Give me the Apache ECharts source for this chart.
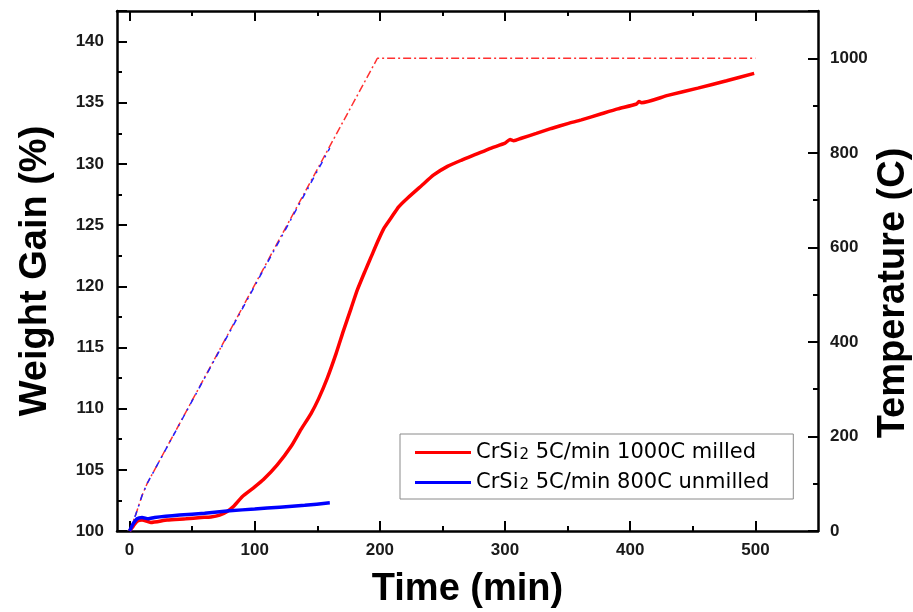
<!DOCTYPE html>
<html>
<head>
<meta charset="utf-8">
<script src="https://cdn.jsdelivr.net/npm/echarts@6/dist/echarts.min.js"></script>
<style>html,body{margin:0;padding:0;background:#fff;}#c{width:913px;height:612px;}</style>
</head>
<body>
<div id="c"></div>
<script>
// ---- data ----
const xMajorTicks = [0, 100, 200, 300, 400, 500];
const xMinorTicks = [50, 150, 250, 350, 450];

const milledTime = [0,3,6,10,17,30,45,57,65,72,78,83,90,100,107,118,129,137,145,151,158,165,171,177,182,188,193,198,203,209,215,222,233,243,254,265,277,289,300,304,307,313,325,337,350,361,377,390,405,407,409,430,454,477,499];
const milledWeight = [100,100.4,100.8,100.9,100.7,100.9,101.0,101.1,101.15,101.3,101.6,102.0,102.8,103.6,104.2,105.4,106.9,108.3,109.6,110.8,112.5,114.5,116.4,118.2,119.7,121.2,122.4,123.6,124.7,125.6,126.5,127.2,128.2,129.1,129.8,130.3,130.8,131.3,131.7,132.0,131.9,132.1,132.5,132.9,133.3,133.6,134.1,134.5,134.9,135.1,135.0,135.6,136.2,136.8,137.4];

const unmilledTime = [0,3,6,10,15,20,40,60,80,100,120,140,160];
const unmilledWeight = [100,100.6,101.0,101.1,101.0,101.1,101.3,101.45,101.65,101.8,101.95,102.1,102.3];

const temp1000Time = [0,5,10,14,197,198,500];
const temp1000Value = [0,35,75,100,995,1000,1000];
const temp800Time = [0,5,10,14,160];
const temp800Value = [0,35,75,100,810];

const seriesNames = ['milled', 'unmilled'];
const legendLabels = {
  milled: '{a|CrSi}{s|2}{a| 5C/min 1000C milled}',
  unmilled: '{a|CrSi}{s|2}{a| 5C/min 800C unmilled}'
};
const rightAxisTitle = 'Temperature (C)';

const zip = (a, b) => a.map((v, i) => [v, b[i]]);

const chart = echarts.init(document.getElementById('c'), null, {renderer: 'canvas'});
const FONT = 'Liberation Sans, Arial, sans-serif';
const LFONT = 'DejaVu Sans, sans-serif';
const axisLineStyle = {color: '#000', width: 2.5};
const tickLine = {color: '#000', width: 2};
const labelStyle = {fontFamily: FONT, fontSize: 17, fontWeight: 'bold', color: '#1a1a1a'};
const nameStyle = {fontFamily: FONT, fontSize: 38, fontWeight: 'bold', color: '#000'};

chart.setOption({
  animation: false,
  backgroundColor: '#fff',
  grid: {left: 117, right: 95, top: 11, bottom: 81, containLabel: false, outerBoundsMode: 'none'},
  graphic: [{
    type: 'text', x: 894, y: 293, rotation: Math.PI / 2,
    style: {text: rightAxisTitle, font: 'bold 38px Liberation Sans, Arial, sans-serif', fill: '#000', align: 'center', verticalAlign: 'middle'}
  }],
  legend: {
    data: seriesNames.map(n => ({name: n, icon: 'rect'})),
    orient: 'vertical',
    left: 400, top: 434,
    itemWidth: 56, itemHeight: 3, itemGap: 9,
    padding: [8, 24, 6, 15],
    borderColor: '#8a8a8a', borderWidth: 1,
    formatter: n => legendLabels[n],
    textStyle: {
      fontFamily: LFONT,
      rich: {
        a: {fontFamily: LFONT, fontSize: 21, color: '#000', lineHeight: 20},
        s: {fontFamily: LFONT, fontSize: 15, color: '#000', lineHeight: 20, verticalAlign: 'bottom', padding: [4, 0, 0, 1]}
      }
    }
  },
  xAxis: [
    {
      type: 'value', min: -10, max: 550, position: 'bottom',
      name: 'Time (min)', nameLocation: 'middle', nameGap: 40, nameTextStyle: nameStyle,
      axisLine: {onZero: false, lineStyle: axisLineStyle},
      axisTick: {inside: true, length: 10, lineStyle: tickLine, customValues: xMajorTicks},
      axisLabel: Object.assign({margin: 11, customValues: xMajorTicks}, labelStyle),
      splitLine: {show: false}
    },
    {
      type: 'value', min: -10, max: 550, position: 'bottom',
      axisLine: {show: false, onZero: false},
      axisTick: {inside: true, length: 5, lineStyle: tickLine, customValues: xMinorTicks},
      axisLabel: {show: false}, splitLine: {show: false}
    },
    {
      type: 'value', min: -10, max: 550, position: 'top',
      axisLine: {onZero: false, lineStyle: axisLineStyle},
      axisTick: {inside: true, length: 10, lineStyle: tickLine, customValues: xMajorTicks},
      axisLabel: {show: false}, splitLine: {show: false}
    },
    {
      type: 'value', min: -10, max: 550, position: 'top',
      axisLine: {show: false, onZero: false},
      axisTick: {inside: true, length: 5, lineStyle: tickLine, customValues: xMinorTicks},
      axisLabel: {show: false}, splitLine: {show: false}
    }
  ],
  yAxis: [
    {
      type: 'value', min: 100, max: 142.5, interval: 5, position: 'left',
      name: 'Weight Gain (%)', nameLocation: 'middle', nameGap: 62, nameRotate: 90, nameTextStyle: nameStyle,
      axisLine: {show: true, onZero: false, lineStyle: axisLineStyle},
      axisTick: {show: true, inside: true, length: 10, lineStyle: tickLine},
      minorTick: {show: true, splitNumber: 2, length: 5, lineStyle: tickLine},
      axisLabel: Object.assign({margin: 13, showMaxLabel: false}, labelStyle),
      splitLine: {show: false}
    },
    {
      type: 'value', min: 0, max: 1100, interval: 200, position: 'right',
      axisLine: {show: true, onZero: false, lineStyle: axisLineStyle},
      axisTick: {show: true, inside: true, length: 10, lineStyle: tickLine},
      minorTick: {show: true, splitNumber: 2, length: 5, lineStyle: tickLine},
      axisLabel: Object.assign({margin: 12, showMaxLabel: false, formatter: v => String(v)}, labelStyle),
      splitLine: {show: false}
    }
  ],
  series: [
    {
      name: 'temp1000', type: 'line', xAxisIndex: 0, yAxisIndex: 1,
      data: zip(temp1000Time, temp1000Value), showSymbol: false, silent: true,
      lineStyle: {color: '#ff3030', width: 1.5, type: [8, 3, 2, 3]}, z: 1
    },
    {
      name: 'temp800', type: 'line', xAxisIndex: 0, yAxisIndex: 1,
      data: zip(temp800Time, temp800Value), showSymbol: false, silent: true,
      lineStyle: {color: '#2020ff', width: 1.5, type: [6, 5, 2, 5], dashOffset: 3}, z: 2
    },
    {
      name: 'milled', type: 'line', xAxisIndex: 0, yAxisIndex: 0,
      data: zip(milledTime, milledWeight), showSymbol: false, smooth: 0.2,
      itemStyle: {color: '#ff0000'},
      lineStyle: {color: '#ff0000', width: 3.5}, z: 3
    },
    {
      name: 'unmilled', type: 'line', xAxisIndex: 0, yAxisIndex: 0,
      data: zip(unmilledTime, unmilledWeight), showSymbol: false, smooth: 0.2,
      itemStyle: {color: '#0000ff'},
      lineStyle: {color: '#0000ff', width: 3.5}, z: 4
    }
  ]
});
</script>
</body>
</html>
